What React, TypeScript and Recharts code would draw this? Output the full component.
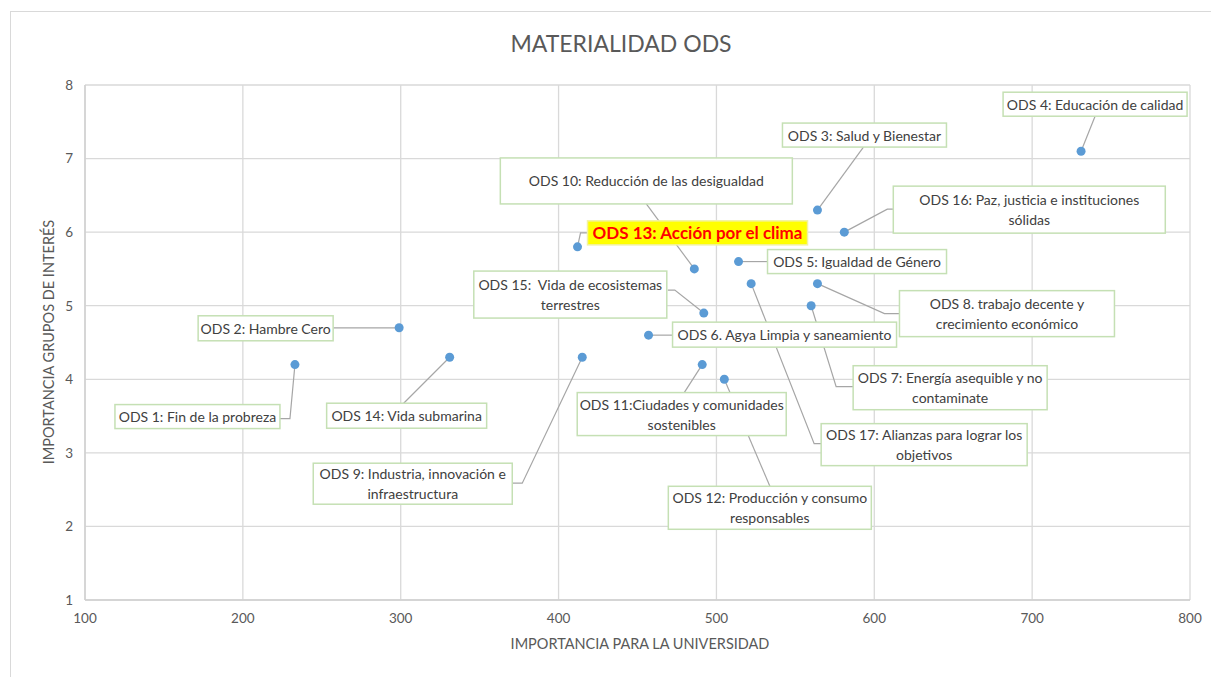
import { ScatterChart, Scatter, XAxis, YAxis, CartesianGrid } from "recharts";

// valores (orden ODS 1..17)
const ods = [
  "ODS 1", "ODS 2", "ODS 3", "ODS 4", "ODS 5", "ODS 6", "ODS 7", "ODS 8", "ODS 9",
  "ODS 10", "ODS 11", "ODS 12", "ODS 13", "ODS 14", "ODS 15", "ODS 16", "ODS 17",
];
const universidad = [233, 299, 564, 731, 514, 457, 560, 564, 415, 486, 491, 505, 412, 331, 492, 581, 522];
const gruposInteres = [4.2, 4.7, 6.3, 7.1, 5.6, 4.6, 5.0, 5.3, 4.3, 5.5, 4.2, 4.0, 5.8, 4.3, 4.9, 6.0, 5.3];
const etiquetas: string[][] = [
  ["ODS 1: Fin de la probreza"],
  ["ODS 2: Hambre Cero"],
  ["ODS 3: Salud y Bienestar"],
  ["ODS 4: Educación de calidad"],
  ["ODS 5: Igualdad de Género"],
  ["ODS 6. Agya Limpia y saneamiento"],
  ["ODS 7: Energía asequible y no", "contaminate"],
  ["ODS 8. trabajo decente y", "crecimiento económico"],
  ["ODS 9: Industria, innovación e", "infraestructura"],
  ["ODS 10: Reducción de las desigualdad"],
  ["ODS 11:Ciudades y comunidades", "sostenibles"],
  ["ODS 12: Producción y consumo", "responsables"],
  ["ODS 13: Acción por el clima"],
  ["ODS 14: Vida submarina"],
  ["ODS 15:  Vida de ecosistemas", "terrestres"],
  ["ODS 16: Paz, justicia e instituciones", "sólidas"],
  ["ODS 17: Alianzas para lograr los", "objetivos"],
];
const destacado = "ODS 13";

const xTicks = [100, 200, 300, 400, 500, 600, 700, 800];
const yTicks = [1, 2, 3, 4, 5, 6, 7, 8];

// posición de cada caja de etiqueta respecto a su punto (px): [dx, dy, ancho, alto] + guía
const cajas: { box: number[]; guia: number[][] }[] = [
  { box: [-180, 40, 165, 24], guia: [[-5, 54], [-15, 54]] },
  { box: [-201, -12, 135, 25], guia: [[-66, 0]] },
  { box: [-35, -87, 164, 24], guia: [[46, -63]] },
  { box: [-78, -59, 184, 24], guia: [[14, -35]] },
  { box: [29, -12, 179, 24], guia: [[29, 0]] },
  { box: [24, -13, 224, 25], guia: [[24, 0]] },
  { box: [42, 60, 194, 44], guia: [[25, 81], [42, 81]] },
  { box: [82, 7, 215, 46], guia: [[67, 30], [82, 30]] },
  { box: [-269, 106, 199, 41], guia: [[-60, 126], [-70, 126]] },
  { box: [-194, -111, 292, 46], guia: [[-48, -65]] },
  { box: [-125, 28, 209, 43], guia: [[-18, 28]] },
  { box: [-56, 107, 203, 43], guia: [[46, 108]] },
  { box: [10, -26, 220, 24], guia: [[3, -14], [10, -14]] },
  { box: [-123, 46, 160, 25], guia: [[-46, 46]] },
  { box: [-230, -42, 193, 47], guia: [[-29, -23], [-36, -23]] },
  { box: [49, -46, 272, 47], guia: [[43, -23], [49, -23]] },
  { box: [70, 140, 206, 42], guia: [[63, 160], [70, 160]] },
];

const data = ods.map((name, i) => ({ name, x: universidad[i], y: gruposInteres[i], i }));

const FONT = "Lato, 'Open Sans', sans-serif";
const GRIS = "#595959";

function Guia(props: any) {
  const { cx, cy, payload } = props;
  const c = cajas[payload.i];
  const pts = [[cx, cy], ...c.guia.map(([dx, dy]) => [cx + dx, cy + dy])];
  return (
    <polyline
      points={pts.map((p) => p.join(",")).join(" ")}
      fill="none"
      stroke="#a6a6a6"
      strokeWidth={1.2}
    />
  );
}

function Punto(props: any) {
  const { cx, cy } = props;
  return <circle cx={cx} cy={cy} r={4.5} fill="#5b9bd5" />;
}

function Caja(props: any) {
  const { cx, cy, payload } = props;
  const [dx, dy, w, h] = cajas[payload.i].box;
  const lines = etiquetas[payload.i];
  const hl = payload.name === destacado;
  const x = cx + dx;
  const y = cy + dy;
  const lh = 20;
  const y0 = y + h / 2 - ((lines.length - 1) * lh) / 2;
  return (
    <g>
      <rect
        x={x}
        y={y}
        width={w}
        height={h}
        fill={hl ? "#ffff00" : "#ffffff"}
        stroke={hl ? "#f2f2a0" : "#c5e0b4"}
        strokeWidth={1.5}
      />
      {lines.map((t, k) => (
        <text
          key={k}
          x={x + w / 2}
          y={y0 + k * lh}
          textAnchor="middle"
          dominantBaseline="central"
          fontFamily={FONT}
          fontSize={hl ? 17 : 14}
          fontWeight={hl ? 700 : 400}
          fill={hl ? "#ff0000" : "#404040"}
          style={{ whiteSpace: "pre" }}
        >
          {t}
        </text>
      ))}
    </g>
  );
}

export default function App() {
  return (
    <div style={{ position: "relative", width: 1211, height: 669, overflow: "hidden", fontFamily: FONT }}>
      <div
        style={{
          position: "absolute",
          left: 2,
          top: 3,
          width: 1400,
          height: 900,
          border: "1px solid #d9d9d9",
          background: "#fff",
        }}
      />
      <div
        style={{
          position: "absolute",
          left: 0,
          top: 21,
          width: 1226,
          textAlign: "center",
          fontSize: 23,
          color: GRIS,
        }}
      >
        MATERIALIDAD ODS
      </div>
      <div
        style={{
          position: "absolute",
          left: 0,
          top: 627,
          width: 1264,
          textAlign: "center",
          fontSize: 14.5,
          color: GRIS,
        }}
      >
        IMPORTANCIA PARA LA UNIVERSIDAD
      </div>
      <div
        style={{
          position: "absolute",
          left: 41 - 150,
          top: 334 - 9,
          width: 300,
          height: 18,
          lineHeight: "18px",
          textAlign: "center",
          fontSize: 14.5,
          color: GRIS,
          transform: "rotate(-90deg)",
        }}
      >
        IMPORTANCIA GRUPOS DE INTERÉS
      </div>
      <div style={{ position: "absolute", left: 0, top: 0 }}>
        <ScatterChart width={1211} height={669} margin={{ top: 77, right: 29, left: 37, bottom: 47 }}>
          <CartesianGrid stroke="#d9d9d9" strokeWidth={1.3} />
          <XAxis
            type="number"
            dataKey="x"
            domain={[100, 800]}
            ticks={xTicks}
            tickLine={false}
            axisLine={{ stroke: "#d0d0d0", strokeWidth: 1.5 }}
            tick={{ fill: GRIS, fontSize: 13.5, fontFamily: FONT, dy: 5 }}
            height={30}
          />
          <YAxis
            type="number"
            dataKey="y"
            domain={[1, 8]}
            ticks={yTicks}
            tickLine={false}
            axisLine={{ stroke: "#d0d0d0", strokeWidth: 1.5 }}
            tick={{ fill: GRIS, fontSize: 13.5, fontFamily: FONT, dx: -4 }}
            width={40}
          />
          <Scatter data={data} shape={<Guia />} isAnimationActive={false} />
          <Scatter data={data} shape={<Punto />} isAnimationActive={false} />
          <Scatter data={data} shape={<Caja />} isAnimationActive={false} />
        </ScatterChart>
      </div>
    </div>
  );
}
